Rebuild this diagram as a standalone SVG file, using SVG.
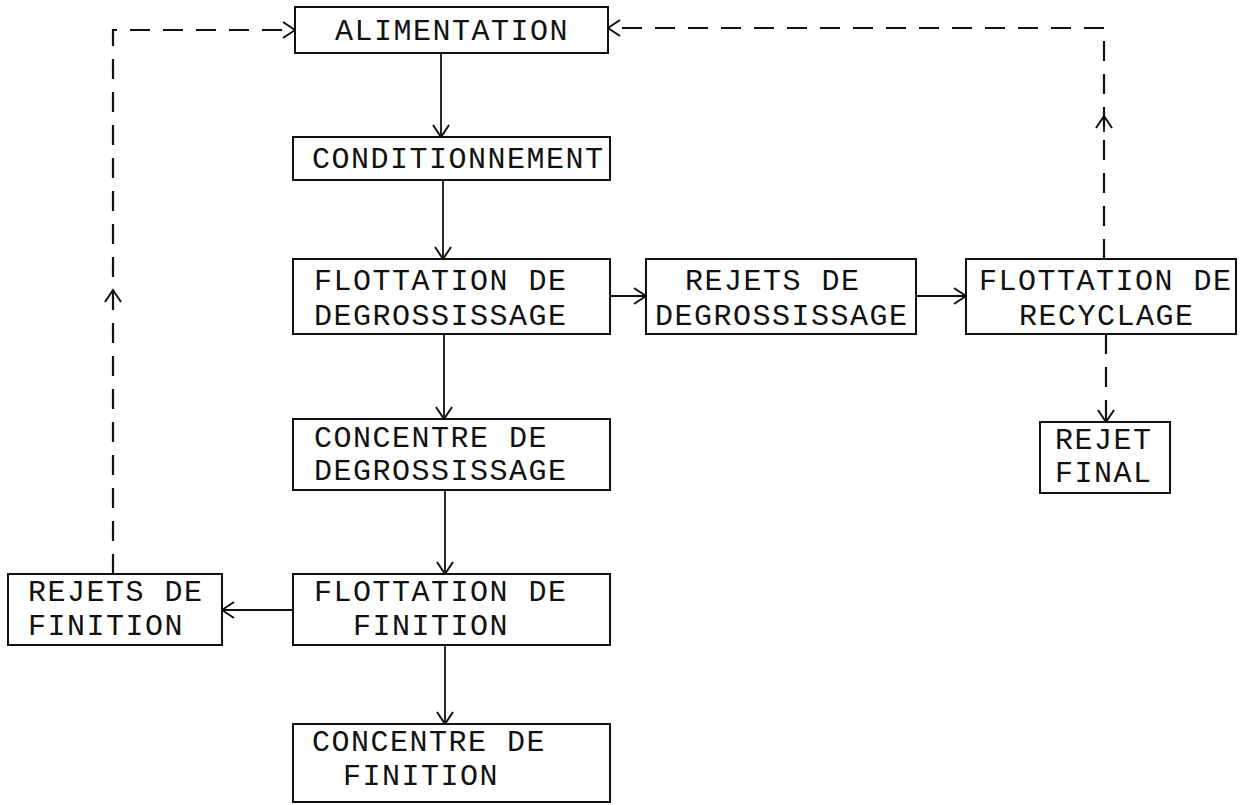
<svg xmlns="http://www.w3.org/2000/svg" width="1247" height="805" viewBox="0 0 1247 805">
<style>
.box{fill:#fff;stroke:#111;stroke-width:2}
.t{font-family:"Liberation Mono","DejaVu Sans Mono",monospace;font-size:30px;letter-spacing:1.5px;fill:#111}
.ln{fill:none;stroke:#111;stroke-width:1.8}
.ds{fill:none;stroke:#111;stroke-width:2.2;stroke-dasharray:20 13}
.hd{fill:none;stroke:#111;stroke-width:2}
</style>
<defs>
<marker id="a" markerUnits="userSpaceOnUse" markerWidth="14" markerHeight="18" viewBox="0 0 14 18" refX="13" refY="9" orient="auto">
<path d="M1,1 L13,9 L1,17" fill="none" stroke="#111" stroke-width="2"/>
</marker>
</defs>
<rect width="1247" height="805" fill="#fff"/>
<g id="connectors">
<line class="ln" x1="441" y1="53" x2="441" y2="137" marker-end="url(#a)"/>
<line class="ln" x1="443" y1="180" x2="443" y2="259" marker-end="url(#a)"/>
<line class="ln" x1="444" y1="334" x2="444" y2="419" marker-end="url(#a)"/>
<line class="ln" x1="445" y1="490" x2="445" y2="574" marker-end="url(#a)"/>
<line class="ln" x1="445" y1="645" x2="445" y2="724" marker-end="url(#a)"/>
<line class="ln" x1="293" y1="610" x2="222" y2="610" marker-end="url(#a)"/>
<line class="ln" x1="610" y1="296" x2="646" y2="296" marker-end="url(#a)"/>
<line class="ln" x1="916" y1="296" x2="966" y2="296" marker-end="url(#a)"/>
<line class="ds" x1="1106" y1="334" x2="1106" y2="422" marker-end="url(#a)"/>
<polyline class="ds" points="1104,259 1104,28 608,28" marker-end="url(#a)"/>
<path class="hd" d="M1096,128 L1104,116 L1112,128"/>
<line class="ln" x1="1104" y1="116" x2="1104" y2="132"/>
<polyline class="ds" points="113,574 113,30 295,30" marker-end="url(#a)"/>
<path class="hd" d="M105,302 L113,290 L121,302"/>
<line class="ln" x1="113" y1="290" x2="113" y2="306"/>
</g>
<g id="alimentation">
<rect class="box" x="295" y="7" width="313" height="46"/>
<text class="t" x="335" y="40">ALIMENTATION</text>
</g>
<g id="conditionnement">
<rect class="box" x="293" y="137" width="317" height="43"/>
<text class="t" x="312" y="168">CONDITIONNEMENT</text>
</g>
<g id="flottation-degrossissage">
<rect class="box" x="293" y="259" width="317" height="75"/>
<text class="t" x="314" y="290">FLOTTATION DE</text>
<text class="t" x="314" y="325">DEGROSSISSAGE</text>
</g>
<g id="rejets-degrossissage">
<rect class="box" x="646" y="259" width="270" height="75"/>
<text class="t" x="685" y="290">REJETS DE</text>
<text class="t" x="655" y="325">DEGROSSISSAGE</text>
</g>
<g id="flottation-recyclage">
<rect class="box" x="966" y="259" width="270" height="75"/>
<text class="t" x="979" y="290">FLOTTATION DE</text>
<text class="t" x="1019" y="325">RECYCLAGE</text>
</g>
<g id="rejet-final">
<rect class="box" x="1040" y="422" width="130" height="71"/>
<text class="t" x="1055" y="449">REJET</text>
<text class="t" x="1055" y="482">FINAL</text>
</g>
<g id="concentre-degrossissage">
<rect class="box" x="293" y="419" width="317" height="71"/>
<text class="t" x="314" y="447">CONCENTRE DE</text>
<text class="t" x="314" y="480">DEGROSSISSAGE</text>
</g>
<g id="flottation-finition">
<rect class="box" x="293" y="574" width="317" height="71"/>
<text class="t" x="314" y="601">FLOTTATION DE</text>
<text class="t" x="353" y="635">FINITION</text>
</g>
<g id="rejets-finition">
<rect class="box" x="8" y="574" width="214" height="71"/>
<text class="t" x="28" y="601">REJETS DE</text>
<text class="t" x="28" y="635">FINITION</text>
</g>
<g id="concentre-finition">
<rect class="box" x="293" y="724" width="317" height="78"/>
<text class="t" x="312" y="751">CONCENTRE DE</text>
<text class="t" x="343" y="785">FINITION</text>
</g>
</svg>
